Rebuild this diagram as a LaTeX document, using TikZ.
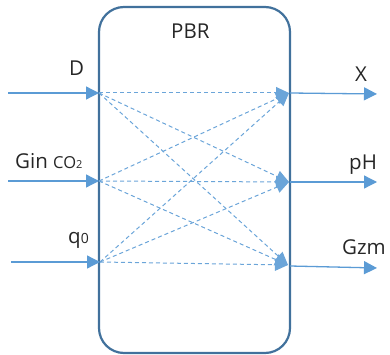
\documentclass[tikz,border=0pt]{standalone}
\usepackage{fontspec}
\setmainfont{Open Sans}
\usetikzlibrary{arrows.meta}
\definecolor{boxblue}{HTML}{41719C}
\definecolor{arrblue}{HTML}{5B9BD5}
\definecolor{txt}{HTML}{262626}
\begin{document}
\begin{tikzpicture}[x=1pt,y=-1pt,
  lbl/.style={font=\fontsize{20.5}{24}\selectfont, inner sep=0pt, anchor=base west, text=txt},
  flow/.style={draw=arrblue, line width=1.3pt, -{Triangle[length=13pt,width=13pt]}},
  link/.style={draw=arrblue!90, line width=1pt, dash pattern=on 4pt off 3pt, -{Triangle[length=13pt,width=12pt]}}]
\useasboundingbox (0,0) rectangle (390,355);
\node[draw=boxblue, line width=2.2pt, rounded corners=25pt, minimum width=191pt, minimum height=346pt, outer sep=0pt, inner sep=0pt, anchor=north west] (pbr) at (99,7) {};
\node[lbl] (pbrlbl) at (171,39) {PBR};
% connection points
\coordinate (inD) at (99,93);
\coordinate (inG) at (99,181);
\coordinate (inQ) at (100,262);
\coordinate (outX) at (289,93);
\coordinate (outP) at (289,182);
\coordinate (outZ) at (288,265);
\coordinate (srcD) at (8,93);
\coordinate (srcG) at (8,181);
\coordinate (srcQ) at (11,262);
\coordinate (dstX) at (377,94);
\coordinate (dstP) at (377,182);
\coordinate (dstZ) at (377,268);
\coordinate (bX) at (290,93);
\coordinate (bP) at (290,182);
\coordinate (bZ) at (290,266);
% inputs
\draw[flow] (srcD) -- (inD);
\draw[flow] (srcG) -- (inG);
\draw[flow] (srcQ) -- (inQ);
% outputs
\draw[flow] (bX) -- (dstX);
\draw[flow] (bP) -- (dstP);
\draw[flow] (bZ) -- (dstZ);
% internal links
\foreach \i in {inD,inG,inQ}{
  \foreach \o in {outX,outP,outZ}{
    \draw[link] (\i) -- (\o);
  }
}
% labels
\node[lbl] (lD) at (69,76) {D};
\node[lbl] (lG) at (15,169) {Gin {\fontsize{16.5}{18}\selectfont CO{\fontsize{11}{12}\selectfont 2}}};
\node[lbl] (lQ) at (68,243) {q{\fontsize{14}{16}\selectfont 0}};
\node[lbl] (lX) at (355,82) {X};
\node[lbl] (lP) at (349,170) {pH};
\node[lbl] (lZ) at (342,254) {Gzm};
\end{tikzpicture}
\end{document}
